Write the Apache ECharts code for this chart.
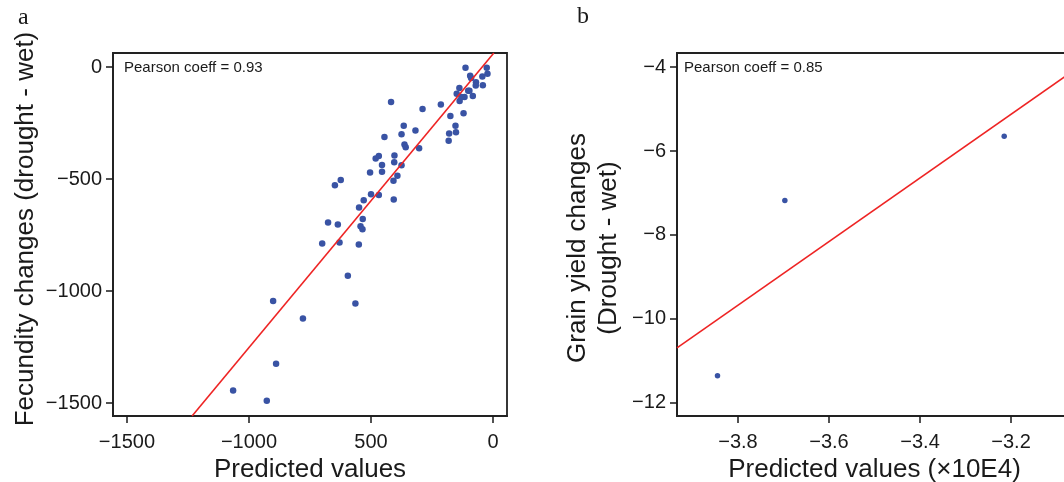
<!DOCTYPE html>
<html>
<head>
<meta charset="utf-8">
<script src="https://cdn.jsdelivr.net/npm/echarts@6/dist/echarts.min.js"></script>
<style>
  html, body { margin: 0; padding: 0; background: #fff; overflow: hidden; }
  #chart { width: 1064px; height: 482px; }
</style>
</head>
<body>
<div id="chart"></div>
<script>
/* ========== panel a: fecundity ========== */
const fecundityPoints = [
    [-113, -3], [-94, -39], [-90, -49], [-26, -3], [-23, -30], [-44, -42],
    [-70, -68], [-71, -83], [-42, -82], [-138, -94], [-149, -119], [-102, -106],
    [-97, -106], [-117, -134], [-137, -152], [-130, -134], [-83, -129], [-121, -207],
    [-214, -167], [-175, -219], [-154, -262], [-180, -297], [-152, -291], [-182, -329],
    [-289, -187], [-418, -156], [-318, -284], [-366, -262], [-375, -300], [-445, -312],
    [-363, -346], [-358, -358], [-303, -363], [-404, -395], [-468, -397], [-481, -409],
    [-405, -425], [-455, -437], [-375, -439], [-504, -471], [-455, -468], [-408, -508],
    [-392, -486], [-500, -568], [-468, -571], [-407, -592], [-530, -595], [-624, -504],
    [-648, -528], [-549, -627], [-534, -678], [-676, -694], [-636, -703], [-543, -711],
    [-535, -724], [-700, -788], [-629, -784], [-550, -792], [-595, -932], [-564, -1056],
    [-901, -1045], [-779, -1123], [-889, -1325], [-1065, -1444], [-927, -1490]
];
const fecundityFit = [[-1233, -1558], [3, 62]];
const aXTicks = [-1500, -1000, -500, 0];
const aXTickLabels = ["−1500", "−1000", "500", "0"];
const aYTicks = [-1500, -1000, -500, 0];
const aYTickLabels = ["−1500", "−1000", "−500", "0"];

/* ========== panel b: grain yield ========== */
const yieldPoints = [[-3.845, -11.35], [-3.697, -7.18], [-3.215, -5.65]];
const yieldFit = [[-3.934, -10.69], [-3.066, -4.11]];
const bXTicks = [-3.8, -3.6, -3.4, -3.2];
const bXTickLabels = ["−3.8", "−3.6", "−3.4", "−3.2"];
const bYTicks = [-12, -10, -8, -6, -4];
const bYTickLabels = ["−12", "−10", "−8", "−6", "−4"];

const FONT = "'Liberation Sans', Arial, sans-serif";
const INK = "#1a1a1a";
const DOT = "#3953a4";
const FIT = "#ee2424";

function labelFrom(ticks, labels) {
    return v => {
        const i = ticks.findIndex(t => Math.abs(t - v) < 1e-6);
        return i >= 0 ? labels[i] : "";
    };
}

// 数值轴：刻度朝外，只在给定位置画刻度和标签
function valueAxis(gridIndex, min, max, ticks, labels, margin, extra) {
    return Object.assign({
        type: "value",
        gridIndex,
        min,
        max,
        axisLine: { show: true, onZero: false, lineStyle: { color: "#222", width: 1.8 } },
        axisTick: {
            show: true, inside: false, length: 7,
            lineStyle: { color: INK, width: 1.5 },
            customValues: ticks
        },
        axisLabel: {
            color: INK, fontSize: 20, fontFamily: FONT, margin,
            customValues: ticks,
            formatter: labelFrom(ticks, labels)
        },
        splitLine: { show: false }
    }, extra || {});
}

const gridBox = {
    show: true, borderColor: "#222", borderWidth: 1.8, backgroundColor: "transparent",
    outerBoundsMode: "none", containLabel: false
};
const xName = { color: INK, fontSize: 26, fontFamily: FONT };

const chart = echarts.init(document.getElementById("chart"));
chart.setOption({
    animation: false,
    backgroundColor: "#fff",
    grid: [
        Object.assign({ left: 113, top: 53, width: 394, height: 363 }, gridBox),
        Object.assign({ left: 677, top: 53, width: 395, height: 363 }, gridBox)
    ],
    xAxis: [
        valueAxis(0, -1557, 57, aXTicks, aXTickLabels, 16, {
            name: "Predicted values", nameLocation: "middle", nameGap: 40, nameTextStyle: xName
        }),
        valueAxis(1, -3.934, -3.066, bXTicks, bXTickLabels, 16, {
            name: "Predicted values (×10E4)", nameLocation: "middle", nameGap: 40, nameTextStyle: xName
        })
    ],
    yAxis: [
        valueAxis(0, -1558, 62.5, aYTicks, aYTickLabels, 11),
        valueAxis(1, -12.31, -3.667, bYTicks, bYTickLabels, 11)
    ],
    series: [
        {
            type: "scatter", xAxisIndex: 0, yAxisIndex: 0,
            data: fecundityPoints, symbolSize: 6.5,
            itemStyle: { color: DOT, opacity: 1 }, z: 3
        },
        {
            type: "line", xAxisIndex: 0, yAxisIndex: 0,
            data: fecundityFit, showSymbol: false, clip: true,
            lineStyle: { color: FIT, width: 1.6 }, z: 4
        },
        {
            type: "scatter", xAxisIndex: 1, yAxisIndex: 1,
            data: yieldPoints, symbolSize: 5.5,
            itemStyle: { color: DOT, opacity: 1 }, z: 3
        },
        {
            type: "line", xAxisIndex: 1, yAxisIndex: 1,
            data: yieldFit, showSymbol: false, clip: true,
            lineStyle: { color: FIT, width: 1.6 }, z: 4
        }
    ],
    graphic: [
        // 面板字母
        { type: "text", left: 18, top: 6, style: { text: "a", font: "24px 'Liberation Serif', serif", fill: INK } },
        { type: "text", left: 577, top: 5, style: { text: "b", font: "24px 'Liberation Serif', serif", fill: INK } },
        // 相关系数
        { type: "text", left: 124, top: 60, style: { text: "Pearson coeff = 0.93", font: "15px " + FONT, fill: INK } },
        { type: "text", left: 684, top: 60, style: { text: "Pearson coeff = 0.85", font: "15px " + FONT, fill: INK } },
        // y 轴标题
        {
            type: "text", x: 26, y: 229, rotation: Math.PI / 2,
            style: {
                text: "Fecundity changes (drought - wet)", font: "26px " + FONT, fill: INK,
                textAlign: "center", textVerticalAlign: "middle"
            }
        },
        {
            type: "text", x: 593, y: 248, rotation: Math.PI / 2,
            style: {
                text: "Grain yield changes\n(Drought - wet)", font: "26px " + FONT, fill: INK,
                textAlign: "center", textVerticalAlign: "middle", lineHeight: 31
            }
        }
    ]
});
</script>
</body>
</html>
